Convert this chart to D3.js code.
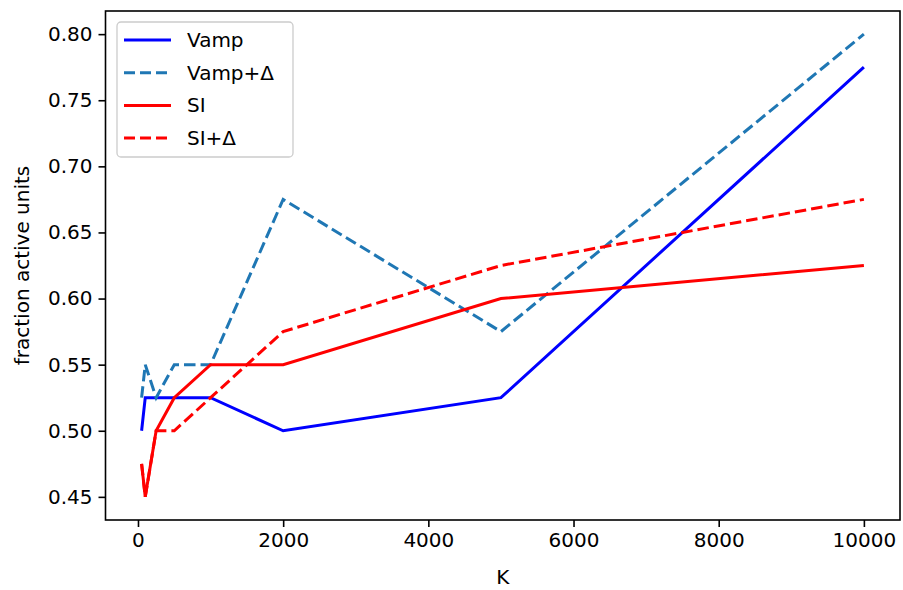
<!DOCTYPE html>
<html>
<head>
<meta charset="utf-8">
<script src="https://cdn.jsdelivr.net/npm/d3@7"></script>
<style>
  body { margin: 0; background: #fff; }
  svg text { font-family: "DejaVu Sans", sans-serif; fill: #000; }
</style>
</head>
<body>
<div id="chart"></div>
<script>
// K values on the x axis
const kValues = [50, 100, 250, 500, 1000, 2000, 5000, 10000];

// fraction of active units per method
const vamp = [0.50, 0.525, 0.525, 0.525, 0.525, 0.50, 0.525, 0.775];
const vampDelta = [0.525, 0.55, 0.525, 0.55, 0.55, 0.675, 0.575, 0.80];
const si = [0.475, 0.45, 0.50, 0.525, 0.55, 0.55, 0.60, 0.625];
const siDelta = [0.475, 0.45, 0.50, 0.50, 0.525, 0.575, 0.625, 0.675];

const seriesNames = ["Vamp", "Vamp+Δ", "SI", "SI+Δ"];
const xTicks = [0, 2000, 4000, 6000, 8000, 10000];
const yTicks = [0.45, 0.50, 0.55, 0.60, 0.65, 0.70, 0.75, 0.80];

const width = 903;
const height = 590;
const margin = { left: 105.5, right: 3, top: 11, bottom: 70 };

const series = [
  { name: seriesNames[0], values: vamp, color: "#0000ff", dash: null },
  { name: seriesNames[1], values: vampDelta, color: "#1f77b4", dash: "11.5,5" },
  { name: seriesNames[2], values: si, color: "#ff0000", dash: null },
  { name: seriesNames[3], values: siDelta, color: "#ff0000", dash: "11.5,5" }
];

const svg = d3.select("#chart")
  .append("svg")
  .attr("width", width)
  .attr("height", height);

// matplotlib-style 5% padding on the data range
const xPad = (d3.max(kValues) - d3.min(kValues)) * 0.05;
const allY = [].concat(vamp, vampDelta, si, siDelta);
const yPad = (d3.max(allY) - d3.min(allY)) * 0.05;

const x = d3.scaleLinear()
  .domain([d3.min(kValues) - xPad, d3.max(kValues) + xPad])
  .range([margin.left, width - margin.right]);

const y = d3.scaleLinear()
  .domain([d3.min(allY) - yPad, d3.max(allY) + yPad])
  .range([height - margin.bottom, margin.top]);

// Lines
const line = d3.line()
  .x((d, i) => x(kValues[i]))
  .y(d => y(d));

svg.append("g")
  .selectAll("path")
  .data(series)
  .enter()
  .append("path")
  .attr("d", d => line(d.values))
  .attr("fill", "none")
  .attr("stroke", d => d.color)
  .attr("stroke-width", 3)
  .attr("stroke-dasharray", d => d.dash);

// Axes
const xAxis = svg.append("g")
  .attr("transform", `translate(0,${height - margin.bottom})`)
  .call(d3.axisBottom(x).tickValues(xTicks).tickFormat(d3.format("d")).tickSize(7).tickPadding(6));

const yAxis = svg.append("g")
  .attr("transform", `translate(${margin.left},0)`)
  .call(d3.axisLeft(y).tickValues(yTicks).tickFormat(d3.format(".2f")).tickSize(7).tickPadding(6));

[xAxis, yAxis].forEach(a => {
  a.select(".domain").remove();
  a.selectAll(".tick line").attr("stroke", "#000").attr("stroke-width", 1.6);
  a.selectAll(".tick text").style("font-size", "20px");
});

// Frame
svg.append("rect")
  .attr("x", margin.left)
  .attr("y", margin.top)
  .attr("width", width - margin.left - margin.right)
  .attr("height", height - margin.top - margin.bottom)
  .attr("fill", "none")
  .attr("stroke", "#000")
  .attr("stroke-width", 1.6);

// Axis labels
svg.append("text")
  .attr("x", (margin.left + width - margin.right) / 2)
  .attr("y", 584)
  .attr("text-anchor", "middle")
  .style("font-size", "20px")
  .text("K");

svg.append("text")
  .attr("transform", `translate(29,${(margin.top + height - margin.bottom) / 2}) rotate(-90)`)
  .attr("text-anchor", "middle")
  .style("font-size", "20px")
  .text("fraction active units");

// Legend
const legend = svg.append("g").attr("transform", "translate(117,22)");

legend.append("rect")
  .attr("width", 176)
  .attr("height", 135)
  .attr("rx", 4)
  .attr("fill", "#fff")
  .attr("fill-opacity", 0.8)
  .attr("stroke", "#cccccc")
  .attr("stroke-width", 1.3);

const rows = legend.selectAll(".row")
  .data(series)
  .enter()
  .append("g")
  .attr("class", "row")
  .attr("transform", (d, i) => `translate(0,${18 + i * 32.7})`);

rows.append("line")
  .attr("x1", 7)
  .attr("x2", 54)
  .attr("stroke", d => d.color)
  .attr("stroke-width", 3)
  .attr("stroke-dasharray", d => d.dash ? "11,5" : null);

rows.append("text")
  .attr("x", 70)
  .attr("y", 7)
  .style("font-size", "20px")
  .text(d => d.name);
</script>
</body>
</html>
